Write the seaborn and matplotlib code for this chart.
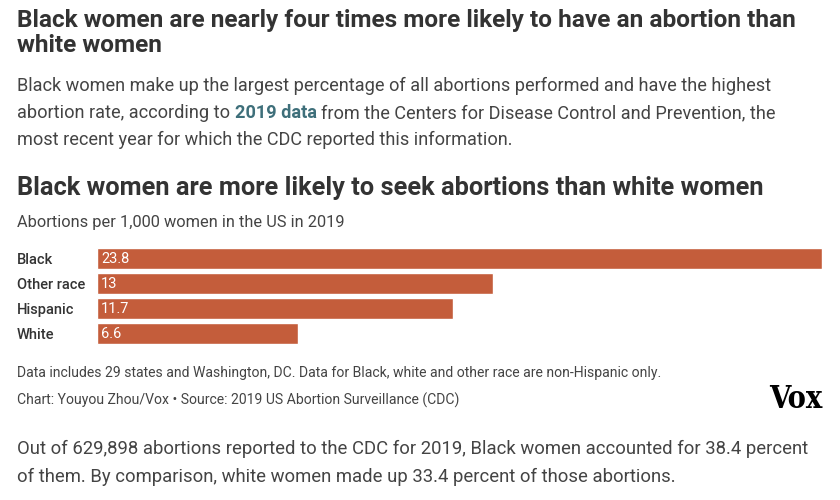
import pandas as pd
import matplotlib.pyplot as plt
import seaborn as sns

sns.set_theme(style='white')
plt.rcParams['font.family'] = ['Roboto', 'DejaVu Sans']

# data
groups = ['Black', 'Other race', 'Hispanic', 'White']
rates = [23.8, 13, 11.7, 6.6]
rate_labels = ['23.8', '13', '11.7', '6.6']

df = pd.DataFrame({'group': groups, 'rate': rates})

bar_color = '#c45d3b'
dark = '#333333'
W, H = 840, 500

fig = plt.figure(figsize=(8.4, 5), dpi=100)
ax = fig.add_axes([97 / W, 1 - 346.5 / H, 725 / W, 100 / H])
sns.barplot(data=df, x='rate', y='group', color=bar_color, saturation=1,
            width=0.84, ax=ax, orient='h')
ax.set_xlim(0, 23.8)
ax.set_ylim(3.5, -0.5)
ax.set_xlabel('')
ax.set_ylabel('')
ax.set_xticks([])
ax.set_yticks([])
sns.despine(ax=ax, left=True, bottom=True)

for i, lab in enumerate(rate_labels):
    ax.annotate(lab, (0, i), xytext=(3, 0), textcoords='offset points',
                color='white', fontsize=10.5, va='center', ha='left')
    fig.text(17 / W, 1 - (260 + 25 * i) / H, groups[i], fontsize=10.5,
             fontweight='medium', color=dark, va='center', ha='left')


def t(x, y, s, **kw):
    return fig.text(x / W, 1 - y / H, s, **kw)


# headline and intro
t(17, 20, 'Black women are nearly four times more likely to have an abortion than',
  fontsize=17.6, fontweight='bold', color=dark, va='center')
t(17, 46, 'white women', fontsize=17.6, fontweight='bold', color=dark, va='center')

body = dict(fontsize=13.1, color='#444444', va='center')
t(17, 86, 'Black women make up the largest percentage of all abortions performed and have the highest', **body)

# line with a bold link in the middle
fig.canvas.draw()
r = fig.canvas.get_renderer()
p1 = t(17, 113, 'abortion rate, according to', **body)
w1 = p1.get_window_extent(r).width
p2 = t(17 + w1 + 5, 113, '2019 data', fontsize=13.1, fontweight='bold',
       color='#3e6f7a', va='center')
w2 = p2.get_window_extent(r).width
t(17 + w1 + w2 + 9, 113,
  'from the Centers for Disease Control and Prevention, the', **body)
t(17, 140, 'most recent year for which the CDC reported this information.', **body)

# chart title
t(17, 188, 'Black women are more likely to seek abortions than white women',
  fontsize=18.3, fontweight='bold', color=dark, va='center')
t(17, 223, 'Abortions per 1,000 women in the US in 2019', fontsize=11.8,
  color='#444444', va='center')

# notes
t(17, 373, 'Data includes 29 states and Washington, DC. Data for Black, white and other race are non-Hispanic only.',
  fontsize=10.1, color='#444444', va='center')
t(17, 400, 'Chart: Youyou Zhou/Vox \u2022 Source: 2019 US Abortion Surveillance (CDC)',
  fontsize=10.1, color='#444444', va='center')
t(822, 399, 'Vox', fontsize=22, fontweight='bold', family=['DejaVu Serif'],
  fontstretch='condensed', color='black', va='center', ha='right')

t(17, 449, 'Out of 629,898 abortions reported to the CDC for 2019, Black women accounted for 38.4 percent',
  fontsize=13.3, color='#444444', va='center')
t(17, 477, 'of them. By comparison, white women made up 33.4 percent of those abortions.',
  fontsize=13.3, color='#444444', va='center')

fig.savefig('out.png', dpi=100)
